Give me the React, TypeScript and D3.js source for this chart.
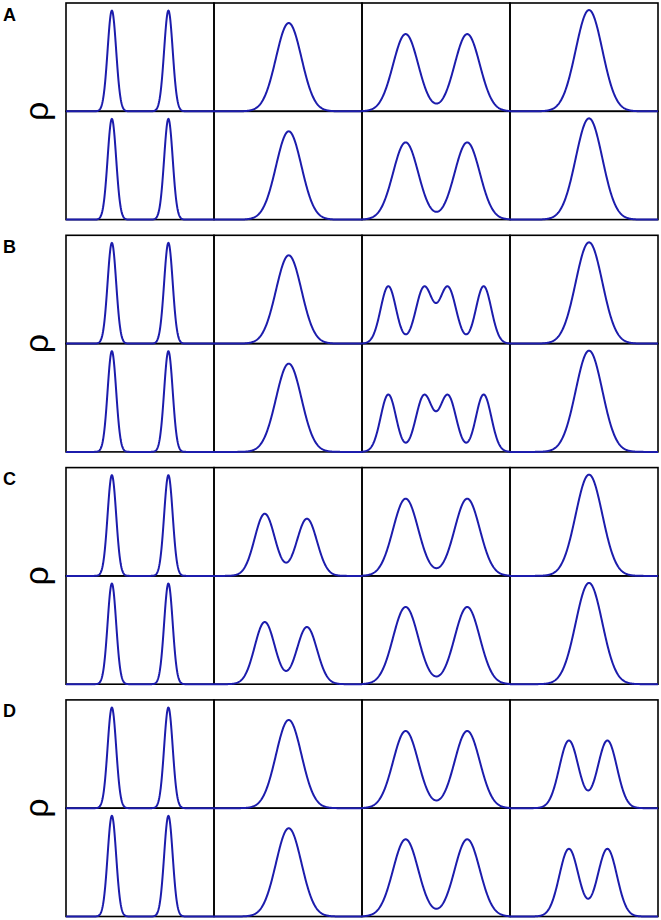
import React from "react";
import * as d3 from "d3";

// Panel labels and y-axis label
const panelLabels = ["A", "B", "C", "D"];
const yLabel = "ρ";

// Each curve = list of peaks [centre (0..1 across cell), width (sigma), height (0..1 of row)]
const narrowPair = [[0.31, 0.029, 0.93], [0.692, 0.029, 0.93]];
const singleMid = [[0.505, 0.086, 0.815]];
const singleRight = [[0.534, 0.09, 0.935]];
const doubleWide = [[0.295, 0.085, 0.713], [0.711, 0.085, 0.713]];
const quadPeaks = [[0.178, 0.052, 0.53], [0.42, 0.056, 0.52], [0.58, 0.056, 0.52], [0.822, 0.052, 0.53]];
const doubleUneven = [[0.343, 0.068, 0.574], [0.628, 0.068, 0.528]];
const doubleClose = [[0.398, 0.0645, 0.625], [0.658, 0.0645, 0.625]];

// Curves per panel (columns), same in both rows
const panelA = [narrowPair, singleMid, doubleWide, singleRight];
const panelB = [narrowPair, singleMid, quadPeaks, singleRight];
const panelC = [narrowPair, doubleUneven, doubleWide, singleRight];
const panelD = [narrowPair, singleMid, doubleWide, doubleClose];
const panels = [panelA, panelB, panelC, panelD];

const W = 661;
const H = 920;
const LEFT = 66;
const COLW = 148;
const ROWH = 108.3;
const TOP0 = 3;
const STEP = 232.3;
const BLUE = "#1c1cac";

const samples = d3.range(0, 1.0001, 0.0025);

function density(peaks: number[][], x: number) {
  return d3.sum(peaks, (p) => p[2] * Math.exp(-((x - p[0]) ** 2) / (2 * p[1] * p[1])));
}

export default function App() {
  return (
    <svg
      width={W}
      height={H}
      style={{ position: "absolute", left: 0, top: 0, background: "#fff" }}
      fontFamily="'Liberation Sans', Arial, sans-serif"
    >
      <rect x={0} y={0} width={W} height={H} fill="#fff" />
      {panels.map((panel, pi) => {
        const top = TOP0 + pi * STEP;
        const mid = top + ROWH;
        return (
          <g key={pi}>
            <text x={3} y={top + 17.5} fontSize={18} fontWeight="bold" fill="#000">
              {panelLabels[pi]}
            </text>
            <text
              transform={`translate(${48},${mid}) rotate(-90)`}
              textAnchor="middle"
              fontSize={34}
              fill="#000"
            >
              {yLabel}
            </text>
            {[0, 1].map((ri) => {
              const rowTop = top + ri * ROWH;
              const y = d3.scaleLinear().domain([0, 1]).range([rowTop + ROWH, rowTop]);
              return panel.map((peaks, ci) => {
                const x = d3
                  .scaleLinear()
                  .domain([0, 1])
                  .range([LEFT + ci * COLW, LEFT + (ci + 1) * COLW]);
                return (
                  <rect
                    key={`f${ri}-${ci}`}
                    x={x(0)}
                    y={y(1)}
                    width={x(1) - x(0)}
                    height={y(0) - y(1)}
                    fill="none"
                    stroke="#000"
                    strokeWidth={1.6}
                  />
                );
              });
            })}
            {[0, 1].map((ri) => {
              const rowTop = top + ri * ROWH;
              const y = d3.scaleLinear().domain([0, 1]).range([rowTop + ROWH, rowTop]);
              return panel.map((peaks, ci) => {
                const x = d3
                  .scaleLinear()
                  .domain([0, 1])
                  .range([LEFT + ci * COLW, LEFT + (ci + 1) * COLW]);
                const line = d3
                  .line<number>()
                  .x((d) => x(d))
                  .y((d) => y(density(peaks, d)));
                return (
                  <path
                    key={`c${ri}-${ci}`}
                    d={line(samples) || ""}
                    fill="none"
                    stroke={BLUE}
                    strokeWidth={2}
                    strokeLinejoin="round"
                  />
                );
              });
            })}
          </g>
        );
      })}
    </svg>
  );
}
